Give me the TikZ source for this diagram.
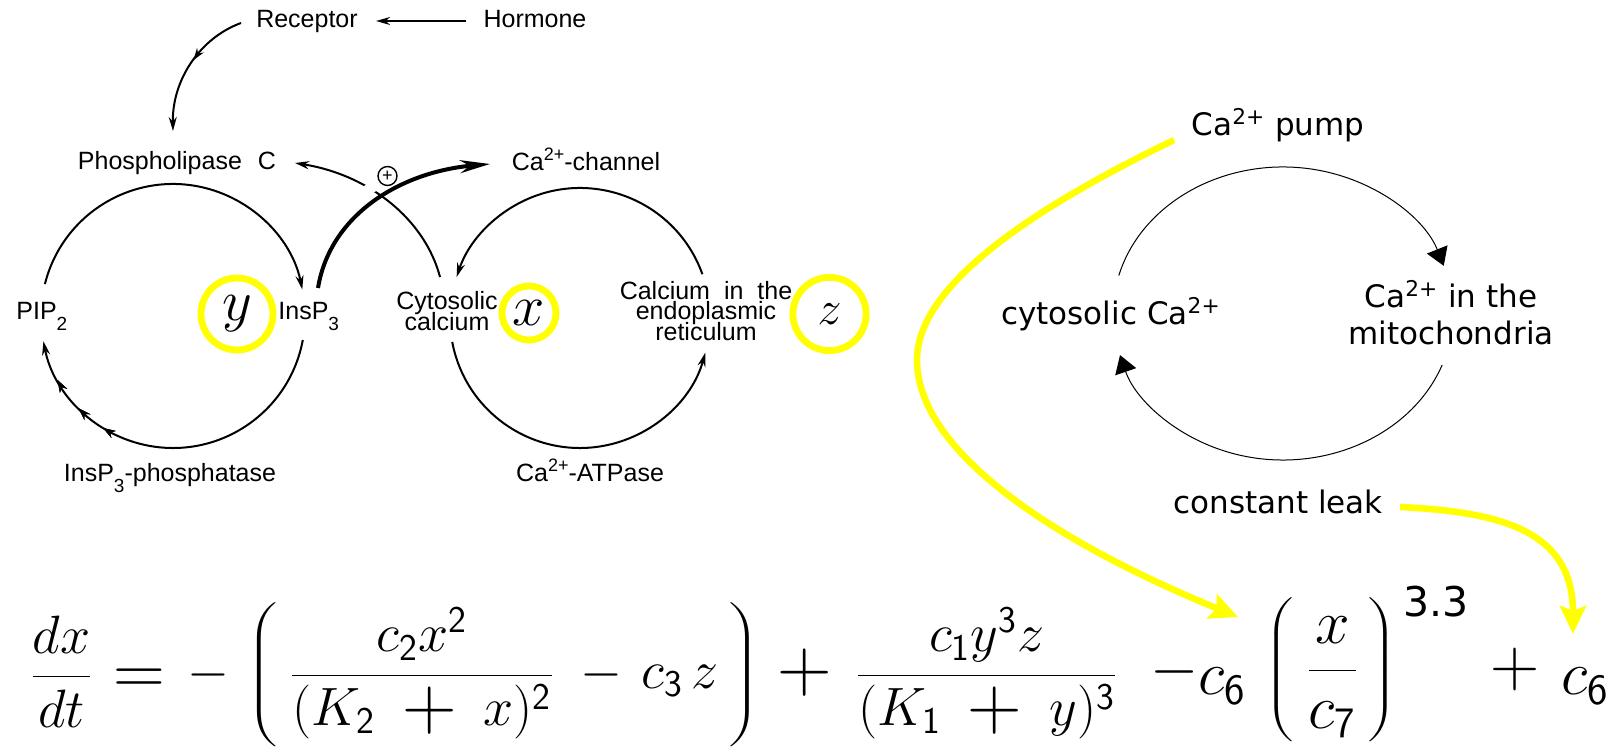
\RequirePackage{fix-cm}
\documentclass[tikz,border=0pt]{standalone}
\usepackage{fontspec}
\usepackage{graphicx}
\usetikzlibrary{arrows.meta,calc,decorations.markings}
\newfontfamily\lfont{Liberation Sans}
\newfontfamily\rfont{DejaVu Sans}
\definecolor{hl}{RGB}{255,255,0}
\newcommand\lsub[1]{\raisebox{-5.5pt}{\fontsize{9.5}{9.5}\selectfont #1}}
\newcommand\lsup[1]{\raisebox{5pt}{\fontsize{9}{9}\selectfont #1}}
\newcommand\sd[1]{\mathsf{#1}}
\newcommand\bplus{\mathbin{\raisebox{-1.8pt}{\scalebox{1.4}{$+$}}}}
\newcommand\wplus{\mkern5mu\bplus\mkern5mu}
\begin{document}
\begin{tikzpicture}[x=0.5pt,y=-0.5pt,
  lab/.style={font={\lfont\fontsize{12.5}{10.3}\selectfont\lineskiplimit=-20pt}, inner sep=0pt, align=center},
  rlab/.style={font={\rfont\fontsize{15.5}{18.5}\selectfont\lineskiplimit=-20pt}, inner sep=0pt, align=center},
  eqn/.style={inner sep=0pt, font=\fontsize{27}{30}\selectfont},
  eqnb/.style={inner sep=0pt, font=\fontsize{31}{34}\selectfont},
  thinline/.style={line width=1pt},
  sarr/.style={-{Stealth[length=7pt,width=4pt]}},
  barr/.style={-{Triangle[length=8.8pt,width=11pt]}},
  yarr/.style={draw=hl, line width=3.3pt, -{Stealth[length=14pt,width=13pt,inset=2.5pt]}},
  ring/.style={draw=hl, line width=3.4pt, circle, inner sep=0pt},
  midarr/.style={postaction={decorate}, decoration={markings, mark=at position #1 with {\arrow{Stealth[length=6pt,width=4pt]}}}},
]
\fill[white] (0,0) rectangle (1617,747);
\path[use as bounding box] (0,0) rectangle (1617,747);

% ---------------- left diagram labels
\node[lab, anchor=base] (rec) at (307,28) {Receptor};
\node[lab, anchor=base] (hor) at (535,28) {Hormone};
\node[lab, anchor=base] (plc) at (177,170) {Phospholipase\hspace{8pt}C};
\node[lab, anchor=base] (chan) at (586,171) {Ca\lsup{2+}-channel};
\node[lab, anchor=base west] (pip) at (16,320) {PIP\lsub{2}};
\node[lab, anchor=base west] (ins) at (278,320) {InsP\lsub{3}};
\node[lab] (cyto) at (447,311) {Cytosolic\\calcium};
\node[lab] (er) at (706,311) {Calcium\hspace{7pt}in\hspace{7pt}the\\endoplasmic\\reticulum};
\node[lab, anchor=base] (phos) at (170,482) {InsP\lsub{3}-phosphatase};
\node[lab, anchor=base] (atp) at (590,482) {Ca\lsup{2+}-ATPase};

% yellow rings with variables
\node[ring, minimum size=36pt, font=\fontsize{29}{29}\selectfont] (yc) at (237,314) {$y$};
\node[ring, minimum size=27pt, font=\fontsize{29}{29}\selectfont] (xc) at (529,313) {$x$};
\node[ring, minimum size=36.6pt, font=\fontsize{24}{24}\selectfont] (zc) at (829.5,314) {$z$};

% hormone -> receptor
\draw[thinline, sarr] ($(hor.base west)+(-17,-7)$) -- ($(rec.base east)+(18,-7)$);
% receptor -> phospholipase C
\coordinate (r1) at (241,23);
\coordinate (r2) at (173,131);
\draw[thinline, sarr, midarr=0.45] (r1) .. controls (200,38) and (172,80) .. (r2);

% left cycle
\coordinate (cL) at (173,316);
\coordinate (L1) at ($(cL)+(194:132)$);
\coordinate (L3) at ($(cL)+(10.5:132)$);
\draw[thinline, sarr] (L1) arc[start angle=194, end angle=348.4, radius=132];
\draw[thinline, sarr, midarr=0.703, midarr=0.789, midarr=0.886] (L3) arc[start angle=10.5, end angle=169, radius=132];

% middle cycle
\coordinate (cM) at (580,318);
\coordinate (M1) at ($(cM)+(340.3:130)$);
\coordinate (M3) at ($(cM)+(169.4:130)$);
\draw[thinline, sarr] (M1) arc[start angle=340.3, end angle=198.4, radius=130];
\draw[thinline, sarr] (M3) arc[start angle=169.4, end angle=15.5, radius=130];

% cytosolic calcium -> phospholipase C (positive feedback)
\coordinate (cy1) at (440,277);
\coordinate (cy2) at (295,163);
\draw[thinline, sarr] (cy1) .. controls (425,220) and (370,175) .. (cy2);

% InsP3 -> Ca channel (thick)
\coordinate (t1) at (318,288);
\coordinate (t2) at (490,164);
\draw[white, line width=5pt, shorten <=48pt, shorten >=45pt] (t1) .. controls (330,215) and (400,172) .. (t2);
\draw[line width=2pt, -{Stealth[length=15pt,width=6.5pt]}] (t1) .. controls (330,215) and (400,172) .. (t2);
\node[circle, draw, line width=0.7pt, minimum size=9.5pt, inner sep=0pt, font=\lfont\fontsize{9}{9}\selectfont] (pos) at (387.5,176) {+};

% ---------------- right diagram
\node[rlab, anchor=base] (pump) at (1278,136) {Ca\textsuperscript{2+} pump};
\node[rlab, anchor=base] (cyt) at (1111,325) {cytosolic Ca\textsuperscript{2+}};
\node[rlab] (mito) at (1451,313) {Ca\textsuperscript{2+} in the\\mitochondria};
\node[rlab, anchor=base] (leak) at (1278,514) {constant leak};

\coordinate (cR) at (1283,313.5);
\coordinate (R1) at ($(cR)+(195:170 and 146.5)$);
\coordinate (R3) at ($(cR)+(20.6:170 and 146.5)$);
\draw[line width=0.5pt, barr] (R1) arc[start angle=195, end angle=341, x radius=170, y radius=146.5];
\draw[line width=0.5pt, barr] (R3) arc[start angle=20.6, end angle=163.5, x radius=170, y radius=146.5];

% ---------------- equation
\node[eqn, anchor=base] (dxdt) at (61.5,690) {$\displaystyle\frac{dx}{dt}$};
\node[eqn, anchor=base] (eqs) at (139,695) {\scalebox{1.33}{$=$}};
\node[eqn, anchor=base] (m1) at (208,688.5) {$-$};
\node[eqn, anchor=base] (lp) at (264,688.5) {\scalebox{1.7}[1]{$\left(\vrule height 44pt depth 31pt width 0pt\right.$}};
\node[eqn, anchor=base] (f1) at (422,688.5) {$\displaystyle\frac{c_{\sd2}x^{\sd2}}{(K_{\sd2}\wplus x)^{\sd2}}$};
\node[eqn, anchor=base] (m2) at (601,688.5) {$-$};
\node[eqn, anchor=base] (c3z) at (680,688.5) {$c_{\sd3}\,z$};
\node[eqn, anchor=base] (rp) at (742,688.5) {\scalebox{1.7}[1]{$\left.\vrule height 44pt depth 31pt width 0pt\right)$}};
\node[eqn, anchor=base] (p1) at (804.5,687.5) {$\bplus$};
\node[eqn, anchor=base] (f2) at (986.5,688.5) {$\displaystyle\frac{c_{\sd1}y^{\sd3}z}{(K_{\sd1}\wplus y)^{\sd3}}$};
\node[eqnb, anchor=base west] (mc6) at (1150,695) {$\raisebox{3.75pt}{$-$}c_{\sd6}$};
\node[eqnb, anchor=base] (lp2) at (1281,685.5) {\scalebox{1.6}[1]{$\left(\vrule height 41pt depth 30pt width 0pt\right.$}};
\node[eqnb, anchor=base] (fx) at (1332.5,685.5) {$\displaystyle\frac{x}{c_{\sd7}}$};
\node[eqnb, anchor=base] (rp2) at (1381,685.5) {\scalebox{1.6}[1]{$\left.\vrule height 41pt depth 30pt width 0pt\right)$}};
\node[anchor=base west, inner sep=0pt, font=\rfont\fontsize{20.5}{20.5}\selectfont] (ex) at (1403,617) {3.3};
\node[eqnb, anchor=base] (p2) at (1515.5,687) {\scalebox{1.1}{$+$}};
\node[eqnb, anchor=base] (c6) at (1585,695) {$c_{\sd6}$};

% ---------------- yellow highlight arrows
\coordinate (y1s) at (1174,140);
\coordinate (y1e) at (1238,617);
\draw[yarr] (y1s) .. controls (1050,200) and (917,280) .. (917,360) .. controls (917,450) and (1050,540) .. (y1e);
\coordinate (y2s) at (1400,507);
\coordinate (y2e) at (1573,634);
\draw[yarr] (y2s) .. controls (1500,512) and (1573,530) .. (y2e);
\end{tikzpicture}
\end{document}
